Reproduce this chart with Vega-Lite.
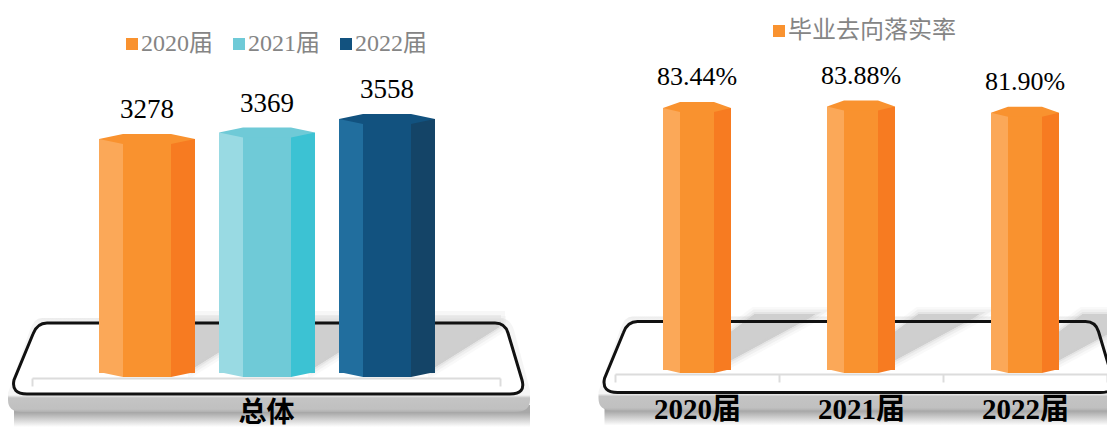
{
"$schema":"https://vega.github.io/schema/vega-lite/v6.json",
"background":"white","padding":0,"spacing":0,
"config":{"view":{"stroke":null},"legend":{"title":null}},
"datasets":{
"total":[{"届":"2020届","人数":3278},{"届":"2021届","人数":3369},{"届":"2022届","人数":3558}],
"rate":[{"届":"2020届","落实率":0.8344,"系列":"毕业去向落实率"},{"届":"2021届","落实率":0.8388,"系列":"毕业去向落实率"},{"届":"2022届","落实率":0.8190,"系列":"毕业去向落实率"}],
"platformLeft":[{"类别":"总体"}],
"platformRight":[{"届":"2021届"}]
},
"hconcat":[
{"width":553,"height":428,
"resolve":{"scale":{"x":"independent"}},
"layer":[
 {"data":{"name":"platformLeft"},
  "encoding":{"x":{"field":"类别","type":"nominal","scale":{"domain":["总体"],"range":[32,500],"paddingInner":0,"paddingOuter":0},"axis":null},"y":{"datum":0,"type":"quantitative","scale":{"domain":[-770.5,5225.5],"nice":false,"zero":false},"axis":null}},
  "layer":[
   {"mark":{"type":"point","shape":"M-252,32 L264,32 L264,54 L-252,54 Z","size":4,"filled":true,"opacity":1,"fill":{"gradient":"linear","x1":0,"y1":0,"x2":0,"y2":1,"stops":[{"offset":0,"color":"#aaaaaa"},{"offset":0.35,"color":"#a8a8a8"},{"offset":1,"color":"#ffffff"}]}}},
   {"mark":{"type":"point","shape":"M-224,-55 L234,-55 Q244,-55 248,-43 L264,17 L264,27 Q264,39 249,39 L-244,39 Q-258,39 -258,27 L-258,20 L-236,-43 Q-232,-55 -224,-55Z","size":4,"filled":true,"opacity":1,"fill":{"gradient":"linear","x1":0,"y1":0,"x2":0,"y2":1,"stops":[{"offset":0,"color":"#ececec"},{"offset":0.06,"color":"#f5f5f5"},{"offset":0.82,"color":"#f5f5f5"},{"offset":0.85,"color":"#c4c4c4"},{"offset":0.97,"color":"#c0c0c0"},{"offset":1,"color":"#b0b0b0"}]}}},
   {"mark":{"type":"point","shape":"M-219,-50 L229,-50 Q239,-50 242,-40 L256,7 Q260,21 244,21 L-239,21 Q-255,21 -252,7 L-233,-39 Q-229,-50 -219,-50 Z","size":4,"filled":true,"opacity":1,"fill":"#ffffff"}}
  ]},
 {"data":{"name":"total"},
  "encoding":{"x":{"field":"届","type":"nominal","scale":{"range":[87,447],"paddingInner":0,"paddingOuter":0},"axis":null},"y":{"datum":0,"type":"quantitative"}},
  "layer":[
   {"mark":{"type":"point","shape":"M48,-50 L114,-50 L114,-58 L48,-58 Z","size":4,"filled":true,"opacity":1,"fill":"#ececec","stroke":"#ececec","strokeWidth":8,"strokeOpacity":0.4}},
   {"mark":{"type":"point","shape":"M48,-6 L112,-46 L112,-50 L48,-50 Z","size":4,"filled":true,"opacity":1,"fill":"#cfcfcf","stroke":"#cfcfcf","strokeWidth":14,"strokeOpacity":0.12}},
   {"mark":{"type":"point","shape":"M48,-6 L112,-46 L112,-50 L48,-50 Z","size":4,"filled":true,"opacity":1,"fill":"#cfcfcf","stroke":"#cfcfcf","strokeWidth":9,"strokeOpacity":0.2}},
   {"mark":{"type":"point","shape":"M48,-6 L112,-46 L112,-50 L48,-50 Z","size":4,"filled":true,"opacity":1,"fill":"#cfcfcf","stroke":"#cfcfcf","strokeWidth":4,"strokeOpacity":0.35}}
  ]},
 {"data":{"name":"platformLeft"},
  "encoding":{"x":{"field":"类别","type":"nominal","scale":{"domain":["总体"],"range":[32,500],"paddingInner":0,"paddingOuter":0},
    "axis":{"title":null,"orient":"bottom","offset":-50,"zindex":1,"labelAngle":0,"domainColor":"#dcdcdc","domainWidth":2,"tickColor":"#dcdcdc","tickWidth":2,"tickSize":8,"tickBand":"extent","labelFont":"Noto Sans CJK SC","labelFontWeight":"bold","labelFontSize":28,"labelColor":"#000000","labelPadding":13}},
   "y":{"datum":0,"type":"quantitative"}},
  "layer":[
   {"mark":{"type":"point","shape":"M-219,-50 L229,-50 Q239,-50 242,-40 L256,7 Q260,21 244,21 L-239,21 Q-255,21 -252,7 L-233,-39 Q-229,-50 -219,-50 Z","size":4,"filled":false,"opacity":1,"stroke":"#111111","strokeWidth":3,"fill":"transparent"}}
  ]},
 {"data":{"name":"total"},
  "encoding":{"x":{"field":"届","type":"nominal","scale":{"range":[87,447],"paddingInner":0,"paddingOuter":0},"axis":null},"y":{"field":"人数","type":"quantitative","stack":null}},
  "resolve":{"scale":{"color":"independent"}},
  "layer":[
   {"mark":{"type":"bar","size":24,"xOffset":-36},"encoding":{"color":{"field":"届","type":"nominal","legend":null,"scale":{"range":["#FBA858","#99DAE3","#216E9E"]}}}},
   {"mark":{"type":"bar","size":24,"xOffset":36},"encoding":{"color":{"field":"届","type":"nominal","legend":null,"scale":{"range":["#F77B21","#3CC2D3","#144467"]}}}},
   {"mark":{"type":"bar","size":48},"encoding":{"color":{"field":"届","type":"nominal","scale":{"range":["#F9922F","#6FCAD7","#12527F"]},"legend":{"orient":"none","legendX":120,"legendY":32,"direction":"horizontal","columns":3,"symbolType":"square","symbolSize":144,"symbolStrokeWidth":0,"labelFont":"Liberation Serif, Noto Sans CJK SC","labelFontSize":24,"labelColor":"#858585","labelOffset":-3,"columnPadding":14,"labelLimit":200}}}},
   {"mark":{"type":"point","shape":"M-48,-1 L-24,-1 L-24,4 Z","size":4,"filled":true,"opacity":1},"encoding":{"y":{"datum":0,"type":"quantitative"},"color":{"field":"届","type":"nominal","legend":null,"scale":{"range":["#FBA858","#99DAE3","#216E9E"]}}}},
   {"mark":{"type":"point","shape":"M24,-1 L48,-1 L24,4 Z","size":4,"filled":true,"opacity":1},"encoding":{"y":{"datum":0,"type":"quantitative"},"color":{"field":"届","type":"nominal","legend":null,"scale":{"range":["#F77B21","#3CC2D3","#144467"]}}}},
   {"mark":{"type":"point","shape":"M-24,-1 L24,-1 L24,4 L-24,4 Z","size":4,"filled":true,"opacity":1},"encoding":{"y":{"datum":0,"type":"quantitative"},"color":{"field":"届","type":"nominal","legend":null,"scale":{"range":["#F9922F","#6FCAD7","#12527F"]}}}},
   {"mark":{"type":"point","shape":"M-48,0 L-24,-5 L24,-5 L48,0 L24,5 L-24,5 Z","size":4,"filled":true,"opacity":1},"encoding":{"color":{"field":"届","type":"nominal","legend":null,"scale":{"range":["#F9922F","#6FCAD7","#12527F"]}}}},
   {"mark":{"type":"text","dy":-21,"baseline":"alphabetic","font":"Liberation Serif","fontSize":27,"color":"#000000"},"encoding":{"text":{"field":"人数","type":"quantitative","format":"d"}}}
  ]}
]},
{"width":554,"height":428,
"resolve":{"scale":{"x":"independent"}},
"layer":[
 {"data":{"name":"platformRight"},
  "encoding":{"x":{"field":"届","type":"nominal","scale":{"domain":["2020届","2021届","2022届"],"range":[62,554],"paddingInner":0,"paddingOuter":0},"axis":null},"y":{"datum":0,"type":"quantitative","scale":{"domain":[-0.1847,1.1783],"nice":false,"zero":false},"axis":null}},
  "layer":[
   {"mark":{"type":"point","shape":"M-252,32 L264,32 L264,54 L-252,54 Z","size":4,"filled":true,"opacity":1,"xOffset":-4.5,"yOffset":1.5,"fill":{"gradient":"linear","x1":0,"y1":0,"x2":0,"y2":1,"stops":[{"offset":0,"color":"#aaaaaa"},{"offset":0.35,"color":"#a8a8a8"},{"offset":1,"color":"#ffffff"}]}}},
   {"mark":{"type":"point","shape":"M-224,-55 L234,-55 Q244,-55 248,-43 L264,17 L264,27 Q264,39 249,39 L-244,39 Q-258,39 -258,27 L-258,20 L-236,-43 Q-232,-55 -224,-55Z","size":4,"filled":true,"opacity":1,"xOffset":-4.5,"yOffset":1.5,"fill":{"gradient":"linear","x1":0,"y1":0,"x2":0,"y2":1,"stops":[{"offset":0,"color":"#ececec"},{"offset":0.06,"color":"#f5f5f5"},{"offset":0.82,"color":"#f5f5f5"},{"offset":0.85,"color":"#c4c4c4"},{"offset":0.97,"color":"#c0c0c0"},{"offset":1,"color":"#b0b0b0"}]}}},
   {"mark":{"type":"point","shape":"M-219,-50 L229,-50 Q239,-50 242,-40 L256,7 Q260,21 244,21 L-239,21 Q-255,21 -252,7 L-233,-39 Q-229,-50 -219,-50 Z","size":4,"filled":true,"opacity":1,"xOffset":-4.5,"yOffset":1.5,"fill":"#ffffff"}}
  ]},
 {"data":{"name":"rate"},
  "encoding":{"x":{"field":"届","type":"nominal","scale":{"domain":["2020届","2021届","2022届"],"range":[62,554],"paddingInner":0,"paddingOuter":0},"axis":null},"y":{"datum":0,"type":"quantitative"}},
  "layer":[
   {"mark":{"type":"point","shape":"M34,-10 L112,-52 L118,-56 L58,-56 L34,-38 Z","size":4,"filled":true,"opacity":1,"fill":"#cfcfcf","stroke":"#cfcfcf","strokeWidth":14,"strokeOpacity":0.12}},
   {"mark":{"type":"point","shape":"M34,-10 L112,-52 L118,-56 L58,-56 L34,-38 Z","size":4,"filled":true,"opacity":1,"fill":"#cfcfcf","stroke":"#cfcfcf","strokeWidth":9,"strokeOpacity":0.2}},
   {"mark":{"type":"point","shape":"M34,-10 L112,-52 L118,-56 L58,-56 L34,-38 Z","size":4,"filled":true,"opacity":1,"fill":"#cfcfcf","stroke":"#cfcfcf","strokeWidth":4,"strokeOpacity":0.35}}
  ]},
 {"data":{"name":"platformRight"},
  "encoding":{"x":{"field":"届","type":"nominal","scale":{"domain":["2020届","2021届","2022届"],"range":[62,554],"paddingInner":0,"paddingOuter":0},
    "axis":{"title":null,"orient":"bottom","offset":-54,"zindex":1,"labelAngle":0,"domainColor":"#dcdcdc","domainWidth":2,"tickColor":"#dcdcdc","tickWidth":2,"tickSize":8,"tickBand":"extent","labelFont":"Liberation Serif, Noto Sans CJK SC","labelFontWeight":"bold","labelFontSize":29,"labelColor":"#000000","labelPadding":13}},
   "y":{"datum":0,"type":"quantitative"}},
  "layer":[
   {"mark":{"type":"point","shape":"M-219,-50 L229,-50 Q239,-50 242,-40 L256,7 Q260,21 244,21 L-239,21 Q-255,21 -252,7 L-233,-39 Q-229,-50 -219,-50 Z","size":4,"filled":false,"opacity":1,"xOffset":-4.5,"yOffset":1.5,"stroke":"#111111","strokeWidth":3,"fill":"transparent"}}
  ]},
 {"data":{"name":"rate"},
  "encoding":{"x":{"field":"届","type":"nominal","scale":{"domain":["2020届","2021届","2022届"],"range":[62,554],"paddingInner":0,"paddingOuter":0},"axis":null},"y":{"field":"落实率","type":"quantitative","stack":null}},
  "layer":[
   {"mark":{"type":"bar","size":17,"xOffset":-25.5,"color":"#FBA858"}},
   {"mark":{"type":"bar","size":17,"xOffset":25.5,"color":"#F77B21"}},
   {"mark":{"type":"bar","size":34},"encoding":{"color":{"field":"系列","type":"nominal","scale":{"range":["#F9922F"]},"legend":{"orient":"none","legendX":767,"legendY":19,"symbolType":"square","symbolSize":144,"symbolStrokeWidth":0,"labelFont":"Liberation Serif, Noto Sans CJK SC","labelFontSize":24,"labelColor":"#858585","labelOffset":-3,"labelLimit":300}}}},
   {"mark":{"type":"point","shape":"M-34,-1 L-17,-1 L-17,3 Z","size":4,"filled":true,"opacity":1,"fill":"#FBA858"},"encoding":{"y":{"datum":0,"type":"quantitative"}}},
   {"mark":{"type":"point","shape":"M17,-1 L34,-1 L17,3 Z","size":4,"filled":true,"opacity":1,"fill":"#F77B21"},"encoding":{"y":{"datum":0,"type":"quantitative"}}},
   {"mark":{"type":"point","shape":"M-17,-1 L17,-1 L17,3 L-17,3 Z","size":4,"filled":true,"opacity":1,"fill":"#F9922F"},"encoding":{"y":{"datum":0,"type":"quantitative"}}},
   {"mark":{"type":"point","shape":"M-34,0 L-17,-6 L17,-6 L34,0 L17,4 L-17,4 Z","size":4,"filled":true,"opacity":1,"fill":"#F9922F"}},
   {"mark":{"type":"text","dy":-23,"baseline":"alphabetic","font":"Liberation Serif","fontSize":26,"color":"#000000"},"encoding":{"text":{"field":"落实率","type":"quantitative","format":".2%"}}}
  ]}
]}
]}
